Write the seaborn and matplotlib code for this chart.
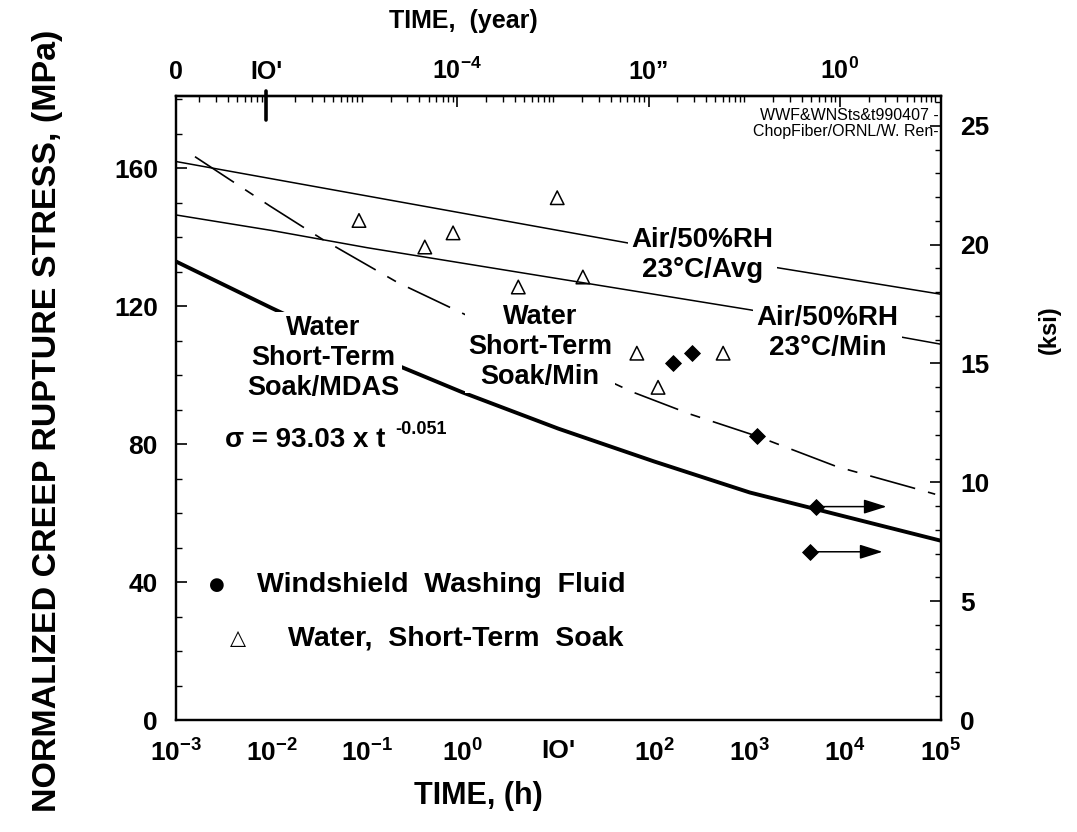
import numpy as np
import pandas as pd
import matplotlib
matplotlib.use("Agg")
import matplotlib.pyplot as plt
import seaborn as sns
from matplotlib.ticker import FixedLocator, FixedFormatter, LogLocator, MultipleLocator, NullFormatter

# ---------------- data ----------------
hours_grid = [1e-3, 1e-2, 1e-1, 1e0, 1e1, 1e2, 1e3, 1e4, 1e5]
air_avg_mpa = [162.0, 157.0, 152.0, 147.0, 142.0, 137.0, 132.5, 128.0, 123.5]
air_min_mpa = [146.5, 142.0, 137.0, 132.5, 128.0, 123.5, 119.0, 114.0, 109.0]
mdas_mpa = [133.0, 119.5, 106.5, 95.0, 84.5, 75.0, 66.0, 59.0, 52.0]

soak_min_hours = [1.58e-3, 9.6e-3, 3.37e-2, 0.205, 0.935, 60.0, 240.0, 1200.0, 8130.0, 5.0e4, 8.7e4]
soak_min_mpa = [163.4, 149.1, 139.5, 127.0, 118.3, 95.1, 88.7, 82.3, 73.5, 67.4, 65.5]

water_hours = [0.082, 0.40, 0.79, 9.7, 3.8, 18.0, 66.0, 110.0, 527.0]
water_mpa = [144.9, 137.2, 141.3, 151.5, 125.6, 128.5, 106.4, 96.5, 106.4]

wwf_hours = [158.0, 250.0, 1190.0, 4950.0, 4290.0]
wwf_mpa = [103.5, 106.4, 82.3, 61.9, 48.8]
wwf_runout = [False, False, False, True, True]
runout_tip_hours = [None, None, None, 2.7e4, 2.45e4]

bottom_ticks = [1e-3, 1e-2, 1e-1, 1e0, 1e1, 1e2, 1e3, 1e4, 1e5]
bottom_labels = ["$10^{-3}$", "$10^{-2}$", "$10^{-1}$", "$10^{0}$", "IO'",
                 "$10^{2}$", "$10^{3}$", "$10^{4}$", "$10^{5}$"]
HOURS_PER_YEAR = 8760.0
top_ticks_year = [1e-3 / HOURS_PER_YEAR, 1e-6, 1e-4, 1e-2, 1e0]
top_labels = ["0", "IO'", "$10^{-4}$", "10\u201d", "$10^{0}$"]
left_ticks = [0, 40, 80, 120, 160]
MPA_PER_KSI = 6.895
right_ticks = [0, 5, 10, 15, 20, 25]
Y_MAX = 181.0

# ---------------- style ----------------
sns.set_style("white")
plt.rcParams.update({
    "font.family": ["Liberation Sans", "DejaVu Sans"],
    "font.weight": "bold",
    "text.color": "black",
    "axes.labelcolor": "black",
    "xtick.color": "black",
    "ytick.color": "black",
    "mathtext.fontset": "custom",
    "mathtext.rm": "Liberation Sans:bold",
    "mathtext.it": "Liberation Sans:bold",
    "mathtext.bf": "Liberation Sans:bold",
    "mathtext.sf": "Liberation Sans:bold",
    "mathtext.default": "bf",
    "axes.linewidth": 1.6,
    "axes.edgecolor": "black",
})

fig = plt.figure(figsize=(10.77, 8.32), dpi=100)
ax = fig.add_axes([0.1634, 0.1346, 0.7103, 0.7500])
ax.set_xscale("log")
ax.set_xlim(1e-3, 1e5)
ax.set_ylim(0, Y_MAX)

# ---------------- lines ----------------
sns.lineplot(x=hours_grid, y=air_avg_mpa, ax=ax, color="black", lw=1.1, zorder=2)
sns.lineplot(x=hours_grid, y=air_min_mpa, ax=ax, color="black", lw=1.1, zorder=2)
sns.lineplot(x=hours_grid, y=mdas_mpa, ax=ax, color="black", lw=2.8, zorder=2)
sns.lineplot(x=soak_min_hours, y=soak_min_mpa, ax=ax, color="black", lw=1.2, zorder=2)
ax.lines[-1].set_dashes((28, 8, 6, 8))

# ---------------- markers ----------------
sns.scatterplot(x=water_hours, y=water_mpa, ax=ax, marker="^", s=95, zorder=5)
tri = ax.collections[-1]
tri.set_facecolor("none")
tri.set_edgecolor("black")
tri.set_linewidth(1.1)

sns.scatterplot(x=wwf_hours, y=wwf_mpa, ax=ax, marker="D", s=65, color="black",
                edgecolor="black", zorder=5)

for h, s, ro, tip in zip(wwf_hours, wwf_mpa, wwf_runout, runout_tip_hours):
    if ro:
        ax.annotate("", xy=(tip, s), xytext=(h, s),
                    arrowprops=dict(arrowstyle="-|>,head_length=0.7,head_width=0.22",
                                    color="black", lw=1.1, shrinkA=0, shrinkB=0,
                                    mutation_scale=20), zorder=4)

# ---------------- axes / ticks ----------------
ax.xaxis.set_major_locator(FixedLocator(bottom_ticks))
ax.xaxis.set_major_formatter(FixedFormatter(bottom_labels))
ax.xaxis.set_minor_locator(LogLocator(base=10, subs=np.arange(2, 10), numticks=100))
ax.xaxis.set_minor_formatter(NullFormatter())
ax.yaxis.set_major_locator(FixedLocator(left_ticks))
ax.yaxis.set_minor_locator(MultipleLocator(10))
ax.tick_params(axis="both", which="major", direction="in", length=8, width=1.2,
               top=False, right=False)
ax.tick_params(axis="both", which="minor", direction="in", length=4, width=1.0,
               top=False, right=False)
ax.tick_params(axis="x", which="major", pad=14, labelsize=19)
ax.tick_params(axis="y", which="major", pad=13, labelsize=19)
for lab in ax.get_xticklabels() + ax.get_yticklabels():
    lab.set_fontweight("bold")

ax.set_xlabel("TIME, (h)", fontsize=22, fontweight="bold", labelpad=10, x=0.395)
ax.set_ylabel("NORMALIZED CREEP RUPTURE STRESS, (MPa)", fontsize=24.5,
              fontweight="bold", labelpad=37, y=0.48)

# right axis (ksi)
ax2 = ax.twinx()
ax2.set_ylim(0, Y_MAX / MPA_PER_KSI)
ax2.yaxis.set_major_locator(FixedLocator(right_ticks))
ax2.yaxis.set_minor_locator(MultipleLocator(1))
ax2.tick_params(axis="y", which="major", direction="in", length=8, width=1.2,
                labelsize=19, pad=14)
ax2.tick_params(axis="y", which="minor", direction="in", length=4, width=1.0)
for lab in ax2.get_yticklabels():
    lab.set_fontweight("bold")
ax2.set_ylabel("(ksi)", fontsize=17, fontweight="bold", rotation=90,
               labelpad=35, y=0.625)
for sp in ax2.spines.values():
    sp.set_linewidth(1.6)

# top axis (years)
axt = ax.secondary_xaxis("top", functions=(lambda h: h / HOURS_PER_YEAR,
                                           lambda y: y * HOURS_PER_YEAR))
axt.xaxis.set_major_locator(FixedLocator(top_ticks_year))
axt.xaxis.set_major_formatter(FixedFormatter(top_labels))
axt.xaxis.set_minor_locator(LogLocator(base=10, subs=np.arange(1, 10), numticks=100))
axt.xaxis.set_minor_formatter(NullFormatter())
axt.tick_params(axis="x", which="major", direction="in", length=8, width=1.2,
                labelsize=18, pad=9)
axt.tick_params(axis="x", which="minor", direction="in", length=4, width=1.0)
for lab in axt.get_xticklabels():
    lab.set_fontweight("bold")
axt.set_xlabel("TIME,  (year)", fontsize=18, fontweight="bold", labelpad=21, x=0.376)
# emphasised tick at 10^-6 year
ax.axvline(top_ticks_year[1] * HOURS_PER_YEAR, ymin=0.962, ymax=1.008,
           color="black", lw=2.6, clip_on=False, zorder=6)

# ---------------- annotations ----------------
box = dict(boxstyle="square,pad=0.12", fc="white", ec="none")
ax.text(0.192, 0.580, "Water\nShort-Term\nSoak/MDAS", transform=ax.transAxes,
        ha="center", va="center", fontsize=19.5, fontweight="bold", linespacing=1.2,
        bbox=box, zorder=3)
ax.text(0.476, 0.598, "Water\nShort-Term\nSoak/Min", transform=ax.transAxes,
        ha="center", va="center", fontsize=19.5, fontweight="bold", linespacing=1.2,
        bbox=box, zorder=3)
ax.text(0.688, 0.745, "Air/50%RH\n23\u00b0C/Avg", transform=ax.transAxes,
        ha="center", va="center", fontsize=20, fontweight="bold", linespacing=1.2,
        bbox=box, zorder=3)
ax.text(0.852, 0.620, "Air/50%RH\n23\u00b0C/Min", transform=ax.transAxes,
        ha="center", va="center", fontsize=20, fontweight="bold", linespacing=1.2,
        bbox=box, zorder=3)
ax.text(0.064, 0.449, "\u03c3 = 93.03 x t", transform=ax.transAxes,
        ha="left", va="center", fontsize=20, fontweight="bold", zorder=3)
ax.text(0.286, 0.465, "-0.051", transform=ax.transAxes,
        ha="left", va="center", fontsize=13, fontweight="bold", zorder=3)

ax.text(0.997, 0.9555, "WWF&WNSts&t990407 -\nChopFiber/ORNL/W. Ren-",
        transform=ax.transAxes, ha="right", va="center", fontsize=11.5,
        fontweight="normal", linespacing=1.1, zorder=3)

# legend (drawn as text rows, matching the reference layout)
ax.text(0.054, 0.216, "\u25cf", transform=ax.transAxes, ha="center", va="center",
        fontsize=13, family=["DejaVu Sans"], zorder=3)
ax.text(0.106, 0.216, "Windshield  Washing  Fluid", transform=ax.transAxes,
        ha="left", va="center", fontsize=20.5, fontweight="bold", zorder=3)
ax.text(0.081, 0.131, "\u25b3", transform=ax.transAxes, ha="center", va="center",
        fontsize=15, fontweight="normal", family=["DejaVu Sans"], zorder=3)
ax.text(0.146, 0.131, "Water,  Short-Term  Soak", transform=ax.transAxes,
        ha="left", va="center", fontsize=20.5, fontweight="bold", zorder=3)

fig.savefig("out.png", dpi=100)
